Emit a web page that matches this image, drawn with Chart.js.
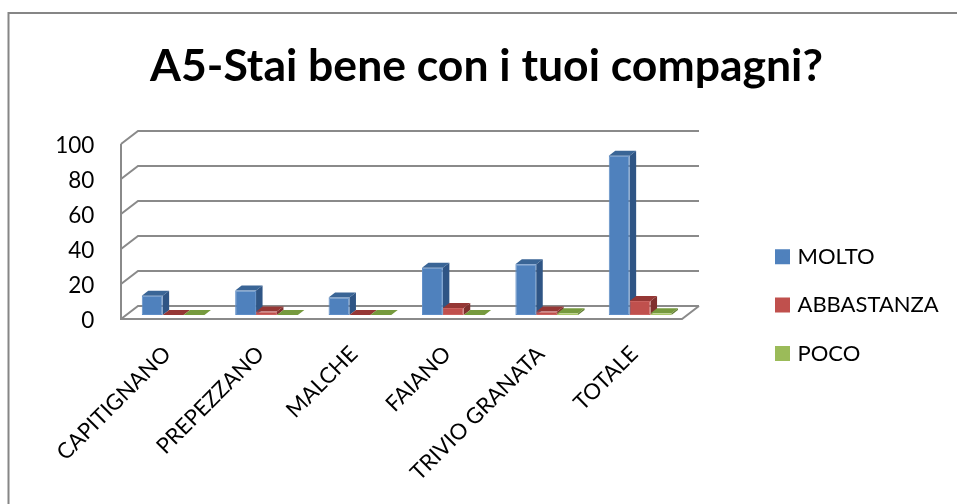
<!DOCTYPE html>
<html><head><meta charset="utf-8">
<style>html,body{margin:0;padding:0;background:#fff}canvas{display:block;filter:blur(0.4px)}</style>
<script src="https://cdn.jsdelivr.net/npm/chart.js@4"></script>
</head><body><canvas id="c" width="957" height="504"></canvas>
<script>
const categories=["CAPITIGNANO","PREPEZZANO","MALCHE","FAIANO","TRIVIO GRANATA","TOTALE"];
const molto=[11,14,10,27,29,91];
const abbastanza=[0,2,0,4,2,8];
const poco=[0,0,0,0,1,1];
const yTicks=[0,20,40,60,80,100];
const titleText="A5-Stai bene con i tuoi compagni?";
const FONT="Lato, Carlito, sans-serif";
const palette={
 molto:{front:"#4F81BD",edge:"#5E8DC6",top:"#3A6596",side:"#2F5585"},
 abbastanza:{front:"#C0504D",edge:"#CA625F",top:"#953735",side:"#7F302E"},
 poco:{front:"#9BBB59",edge:"#A8C568",top:"#769A3E",side:"#637F34"}
};
const shades=[palette.molto,palette.abbastanza,palette.poco];
const WALL="#8A8A8A";

function poly(ctx,pts,fill){ctx.beginPath();pts.forEach((p,i)=>i?ctx.lineTo(p[0],p[1]):ctx.moveTo(p[0],p[1]));ctx.closePath();ctx.fillStyle=fill;ctx.fill();}

const scene={
 id:"scene",
 beforeLayout(chart){
  const l=chart.legend;
  if(l&&!l._wrapped){const f=l.fit;l.fit=function(){f.call(this);this.width=270.2;};l._wrapped=true;}
 },
 afterLayout(chart){
  const l=chart.legend;
  const pad=l.options.labels.padding;
  const y0=251.7-l.options.labels.font.size/2;
  l.left=775+3.5-pad;l.right=l.left+200;
  l.top=y0-pad;l.bottom=y0+l.columnSizes[0].height+10;
 },
 beforeDraw(chart){
  const c=chart.ctx;c.save();
  c.strokeStyle="#868686";c.lineWidth=2;
  c.beginPath();c.moveTo(8.5,504);c.lineTo(8.5,13);c.lineTo(957,13);c.stroke();
  c.restore();
 },
 beforeDatasetsDraw(chart){
  const c=chart.ctx,y=chart.scales.y,a=chart.chartArea;
  const fl=a.left-5.4,fr=a.right-4.8,bl=fl+17,br=fr+17,dF=4,dB=-9;
  c.save();c.strokeStyle=WALL;c.lineWidth=2;c.lineCap="butt";
  yTicks.forEach(v=>{
   const p=y.getPixelForValue(v);
   c.beginPath();c.moveTo(fl,p+dF);c.lineTo(bl,p+dB);c.lineTo(br,p+dB);c.stroke();
  });
  const p0=y.getPixelForValue(0),p1=y.getPixelForValue(100);
  c.beginPath();c.moveTo(fl,p1+dF);c.lineTo(fl,p0+dF);c.lineTo(fr,p0+dF);c.lineTo(br,p0+dB);c.stroke();
  c.restore();
  const dx=6.5,dy=5;
  chart.data.datasets.forEach((d,i)=>{
   const s=shades[i];
   chart.getDatasetMeta(i).data.forEach(b=>{
    const p=b.getProps(["x","y","base","width"]);
    const x1=p.x-p.width/2,x2=p.x+p.width/2;
    poly(c,[[x2,p.base],[x2+dx,p.base-dy],[x2+dx,p.y-dy],[x2,p.y]],s.side);
    poly(c,[[x1,p.y],[x1+dx,p.y-dy],[x2+dx,p.y-dy],[x2,p.y]],s.top);
   });
  });
 }
};

const mk=(label,data,s)=>({label,data,backgroundColor:s.front,borderColor:s.edge,borderWidth:1,borderSkipped:false});
new Chart(document.getElementById("c"),{
 type:"bar",
 plugins:[scene],
 data:{labels:categories,datasets:[mk("MOLTO",molto,palette.molto),mk("ABBASTANZA",abbastanza,palette.abbastanza),mk("POCO",poco,palette.poco)]},
 options:{
  responsive:false,animation:false,devicePixelRatio:1,
  layout:{padding:{left:16,right:0,top:0,bottom:0}},
  datasets:{bar:{categoryPercentage:0.671,barPercentage:1}},
  plugins:{
   tooltip:{enabled:false},
   title:{display:true,text:titleText,color:"#000",font:{family:FONT,size:44.5,weight:"bold",lineHeight:1.2},padding:{top:40,bottom:46.6}},
   legend:{position:"right",align:"center",labels:{color:"#000",font:{family:FONT,size:22,lineHeight:1.2},padding:26.4,boxWidth:8,boxHeight:8,
    generateLabels(chart){return chart.data.datasets.map((d,i)=>({text:d.label,fillStyle:d.backgroundColor,strokeStyle:d.backgroundColor,lineWidth:7,datasetIndex:i,fontColor:"#000"}));}}}
  },
  scales:{
   x:{grid:{display:false},border:{display:false},
      afterFit(s){s.height=189;},
      ticks:{color:"#000",font:{family:FONT,size:22},minRotation:45,maxRotation:45,autoSkip:false,padding:18,labelOffset:-6}},
   y:{min:0,max:100,grid:{display:false},border:{display:false},
      afterFit(s){s.width=110.4;},
      afterBuildTicks(s){s.ticks=yTicks.map(v=>({value:v}));},
      ticks:{color:"#000",font:{family:FONT,size:22.5},padding:24,labelOffset:5.5}}
  }
 }
});
</script></body></html>
